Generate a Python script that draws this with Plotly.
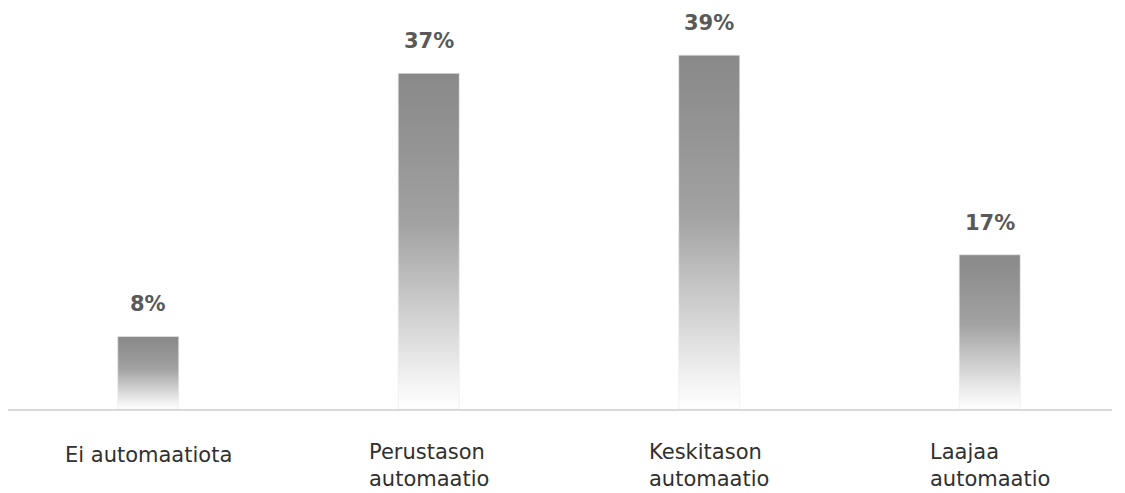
import plotly.graph_objects as go

categories = ["Ei automaatiota", "Perustason<br>automaatio", "Keskitason<br>automaatio", "Laajaa<br>automaatio"]
values = [8, 37, 39, 17]
value_labels = ["8%", "37%", "39%", "17%"]

bar_width = 0.2175
grad = [[0.0, "#ffffff"], [0.08, "#f3f3f3"], [0.3, "#cdcdcd"], [0.55, "#a2a2a2"], [0.8, "#939393"], [1.0, "#898989"]]

fig = go.Figure()
for i, v in enumerate(values):
    fig.add_trace(go.Scatter(
        x=[i - bar_width / 2, i + bar_width / 2, i + bar_width / 2, i - bar_width / 2, i - bar_width / 2],
        y=[0, 0, v, v, 0],
        mode="lines",
        fill="toself",
        line=dict(width=1, color="rgba(235,235,235,0.6)"),
        fillgradient=dict(type="vertical", colorscale=grad),
        hoverinfo="skip",
        showlegend=False,
    ))

annotations = []
for i, (v, lab) in enumerate(zip(values, value_labels)):
    annotations.append(dict(
        x=i, y=v, xref="x", yref="y", text=lab, showarrow=False,
        xanchor="center", yanchor="bottom", yshift=18,
        font=dict(family="DejaVu Sans", size=21, color="#595959", weight="bold"),
    ))
for i, cat in enumerate(categories):
    single = "<br>" not in cat
    annotations.append(dict(
        x=i, y=0, xref="x", yref="y", text=cat, showarrow=False,
        xanchor="center", yanchor="top", align="left",
        yshift=-32 if single else -29,
        font=dict(family="DejaVu Sans", size=21, color="#303030"),
    ))

fig.update_layout(
    width=1125, height=493,
    margin=dict(l=8, r=13, t=28, b=84),
    paper_bgcolor="white", plot_bgcolor="white",
    xaxis=dict(range=[-0.5, 3.436], showgrid=False, zeroline=False, showticklabels=False,
               showline=True, linecolor="#d9d9d9", linewidth=2, ticks=""),
    yaxis=dict(range=[0, 42], showgrid=False, zeroline=False, showticklabels=False,
               showline=False, ticks=""),
    annotations=annotations,
    showlegend=False,
)

fig.write_html("out.html")
